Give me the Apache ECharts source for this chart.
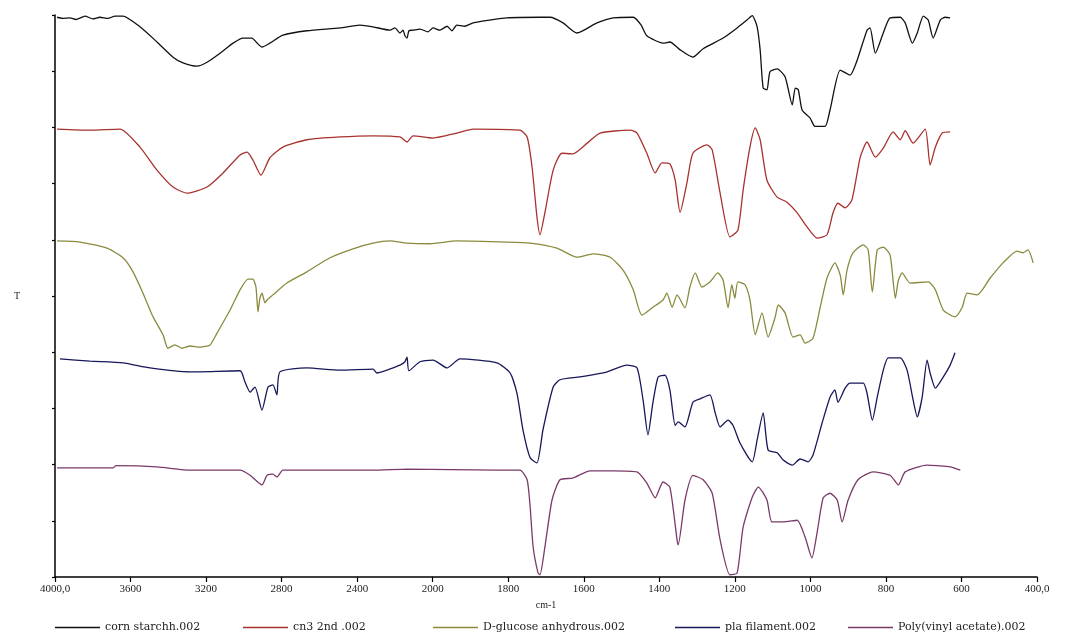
<!DOCTYPE html>
<html><head><meta charset="utf-8">
<script src="https://cdn.jsdelivr.net/npm/echarts@6/dist/echarts.min.js"></script>
<style>html,body{margin:0;padding:0;background:#fff}#c{width:1069px;height:641px}</style>
</head><body><div id="c"></div>
<script>
// Wavenumber ticks (scale change at 2000 cm-1, as on the instrument plot)
const tickValues = [4000,3600,3200,2800,2400,2000,1800,1600,1400,1200,1000,800,600,400];
const tickLabels = ['4000,0','3600','3200','2800','2400','2000','1800','1600','1400','1200','1000','800','600','400,0'];
const seriesNames = ['corn starchh.002','cn3 2nd .002','D-glucose anhydrous.002','pla filament.002','Poly(vinyl acetate).002'];

// [wavenumber cm-1, T (offset stacked units)]
const cornStarch = [[3989,9.96],[3960,9.94],[3921,9.95],[3890,9.92],[3841,9.98],[3800,9.93],[3762,9.96],[3720,9.94],[3682,9.98],[3640,9.98],[3550,9.79],[3460,9.52],[3375,9.25],[3322,9.15],[3248,9.09],[3195,9.16],[3126,9.32],[3057,9.50],[3005,9.59],[2957,9.59],[2930,9.50],[2904,9.43],[2862,9.50],[2793,9.64],[2666,9.72],[2491,9.77],[2385,9.82],[2316,9.79],[2226,9.73],[2200,9.77],[2173,9.68],[2157,9.73],[2147,9.63],[2136,9.59],[2126,9.72],[2104,9.73],[2067,9.75],[2025,9.70],[1999,9.77],[1981,9.73],[1962,9.80],[1949,9.72],[1936,9.82],[1915,9.80],[1893,9.86],[1803,9.95],[1716,9.96],[1689,9.96],[1655,9.86],[1618,9.68],[1565,9.86],[1522,9.95],[1469,9.96],[1448,9.82],[1433,9.63],[1390,9.50],[1372,9.52],[1345,9.38],[1311,9.25],[1284,9.40],[1231,9.59],[1194,9.77],[1168,9.91],[1154,9.99],[1141,9.79],[1133,9.38],[1125,8.70],[1115,8.67],[1107,8.99],[1088,9.04],[1067,8.90],[1048,8.40],[1040,8.70],[1032,8.67],[1022,8.31],[1001,8.17],[988,8.02],[961,8.02],[948,8.31],[921,9.02],[895,8.93],[876,9.20],[850,9.73],[842,9.77],[828,9.32],[807,9.68],[789,9.95],[762,9.96],[749,9.86],[730,9.50],[717,9.68],[701,9.98],[688,9.91],[675,9.59],[656,9.91],[643,9.96],[630,9.95]];

const cn3 = [[3989,7.97],[3815,7.95],[3656,7.97],[3550,7.65],[3460,7.24],[3375,6.94],[3301,6.83],[3195,6.94],[3110,7.19],[3020,7.51],[2983,7.56],[2952,7.42],[2909,7.15],[2862,7.46],[2793,7.65],[2666,7.78],[2491,7.83],[2316,7.85],[2173,7.83],[2136,7.74],[2104,7.85],[1999,7.81],[1936,7.90],[1893,7.97],[1769,7.95],[1750,7.83],[1737,7.30],[1724,6.41],[1716,6.09],[1703,6.48],[1681,7.24],[1658,7.54],[1629,7.53],[1591,7.72],[1557,7.90],[1477,7.95],[1459,7.90],[1433,7.54],[1411,7.19],[1393,7.37],[1372,7.35],[1358,7.06],[1345,6.49],[1327,7.01],[1311,7.54],[1274,7.69],[1260,7.60],[1239,6.83],[1213,6.05],[1192,6.17],[1178,6.89],[1160,7.65],[1146,7.99],[1133,7.78],[1115,7.06],[1088,6.76],[1062,6.67],[1035,6.48],[1009,6.23],[982,6.03],[956,6.09],[940,6.48],[927,6.65],[908,6.57],[890,6.71],[868,7.47],[850,7.74],[828,7.47],[807,7.63],[781,7.92],[762,7.78],[749,7.94],[728,7.72],[696,7.97],[683,7.33],[669,7.65],[651,7.90],[630,7.92]];

const glucose = [[3989,5.98],[3868,5.96],[3725,5.85],[3640,5.68],[3587,5.43],[3534,5.05],[3481,4.63],[3428,4.31],[3402,4.07],[3365,4.13],[3328,4.07],[3285,4.11],[3232,4.09],[3179,4.13],[3142,4.34],[3073,4.75],[3020,5.11],[2978,5.30],[2952,5.30],[2936,5.16],[2925,4.72],[2915,4.96],[2904,5.05],[2888,4.88],[2877,4.93],[2846,5.02],[2772,5.23],[2666,5.43],[2544,5.68],[2422,5.84],[2316,5.94],[2226,5.98],[2136,5.94],[2014,5.93],[1936,5.98],[1803,5.96],[1742,5.94],[1671,5.85],[1618,5.69],[1575,5.75],[1530,5.69],[1496,5.46],[1469,5.11],[1446,4.66],[1417,4.80],[1390,4.93],[1380,5.05],[1366,4.80],[1353,5.02],[1332,4.79],[1319,5.16],[1305,5.41],[1287,5.16],[1266,5.25],[1245,5.41],[1231,5.28],[1218,4.79],[1208,5.20],[1200,4.96],[1192,5.25],[1173,5.20],[1160,4.93],[1146,4.31],[1128,4.70],[1112,4.27],[1093,4.63],[1085,4.84],[1067,4.70],[1046,4.27],[1027,4.31],[1014,4.16],[993,4.25],[974,4.80],[956,5.32],[935,5.59],[921,5.37],[913,5.02],[903,5.46],[887,5.77],[860,5.91],[847,5.82],[836,5.07],[823,5.82],[807,5.87],[789,5.73],[775,4.96],[767,5.28],[757,5.41],[736,5.23],[688,5.25],[669,5.11],[648,4.75],[617,4.63],[598,4.80],[585,5.05],[558,5.02],[524,5.32],[490,5.59],[453,5.80],[437,5.77],[424,5.82],[410,5.59]];

const plaFilament = [[3974,3.88],[3815,3.84],[3640,3.81],[3497,3.72],[3285,3.65],[3020,3.67],[2994,3.47],[2967,3.29],[2941,3.38],[2904,2.97],[2872,3.38],[2846,3.42],[2825,3.24],[2809,3.65],[2666,3.72],[2491,3.68],[2316,3.70],[2295,3.63],[2173,3.77],[2147,3.83],[2136,3.91],[2126,3.67],[2067,3.83],[1999,3.86],[1962,3.72],[1928,3.88],[1830,3.81],[1795,3.63],[1777,3.27],[1761,2.62],[1742,2.12],[1724,2.03],[1708,2.62],[1681,3.38],[1663,3.51],[1610,3.56],[1538,3.65],[1486,3.77],[1459,3.72],[1443,3.15],[1430,2.53],[1417,3.10],[1403,3.56],[1385,3.59],[1372,3.33],[1358,2.70],[1350,2.76],[1332,2.67],[1311,3.11],[1292,3.17],[1266,3.24],[1252,2.92],[1239,2.67],[1218,2.79],[1205,2.70],[1186,2.38],[1154,2.05],[1141,2.44],[1125,2.92],[1112,2.26],[1088,2.21],[1072,2.08],[1048,1.99],[1027,2.10],[1006,2.05],[993,2.17],[969,2.74],[948,3.20],[935,3.33],[927,3.11],[908,3.36],[895,3.45],[860,3.45],[850,3.27],[836,2.79],[823,3.20],[807,3.68],[794,3.90],[762,3.90],[744,3.68],[728,3.15],[717,2.85],[704,3.20],[691,3.86],[683,3.63],[669,3.36],[648,3.56],[630,3.77],[617,3.99]];

const pvac = [[3989,1.94],[3693,1.94],[3677,1.98],[3460,1.96],[3285,1.90],[3020,1.90],[2967,1.81],[2904,1.64],[2877,1.81],[2846,1.83],[2825,1.78],[2793,1.90],[2666,1.90],[2316,1.90],[2136,1.92],[1830,1.90],[1769,1.90],[1750,1.73],[1742,1.25],[1734,0.53],[1721,0.07],[1716,0.04],[1703,0.53],[1684,1.37],[1663,1.73],[1629,1.76],[1583,1.89],[1522,1.89],[1459,1.87],[1433,1.67],[1411,1.41],[1390,1.69],[1372,1.60],[1353,0.66],[1350,0.57],[1332,1.37],[1311,1.81],[1284,1.73],[1260,1.49],[1239,0.66],[1213,0.04],[1194,0.07],[1178,0.89],[1154,1.42],[1138,1.60],[1115,1.37],[1102,0.98],[1072,0.98],[1035,1.01],[1014,0.71],[996,0.34],[982,0.80],[966,1.41],[948,1.49],[929,1.37],[916,0.98],[900,1.37],[874,1.73],[834,1.87],[789,1.81],[767,1.64],[749,1.87],[691,1.99],[664,1.98],[630,1.96],[603,1.90]];

const colors = ['#111111','#a8322e','#8a8a3e','#17175a','#7a3a68'];
const seriesData = [cornStarch, cn3, glucose, plaFilament, pvac];

// piecewise mapping of wavenumber onto the tick index scale
function toU(wn){
  for (let i = 0; i < tickValues.length - 1; i++) {
    const a = tickValues[i], b = tickValues[i+1];
    if (wn <= a && wn >= b) return i + (a - wn) / (a - b);
  }
  return wn > tickValues[0] ? 0 : tickValues.length - 1;
}

const serif = 'Liberation Serif';
const legendFont = 'DejaVu Serif';
const chart = echarts.init(document.getElementById('c'), null, {renderer:'canvas'});
const legendLefts = [55, 243, 433, 675, 848];

chart.setOption({
  animation: false,
  backgroundColor: '#ffffff',
  grid: {left: 55, right: 32, top: 15, bottom: 64, containLabel: false},
  xAxis: {
    type: 'value', min: 0, max: tickValues.length - 1, interval: 1,
    name: 'cm-1', nameLocation: 'middle', nameGap: 22,
    nameTextStyle: {fontFamily: serif, fontSize: 10, color: '#222'},
    axisLine: {lineStyle: {color: '#000', width: 1.5}},
    axisTick: {show: true, length: 5, lineStyle: {color: '#000', width: 1.2}},
    axisLabel: {fontFamily: serif, fontSize: 11, color: '#222', margin: 7,
      formatter: v => tickLabels[Math.round(v)] || ''},
    splitLine: {show: false}
  },
  yAxis: {
    type: 'value', min: 0, max: 10, interval: 1,
    name: 'T', nameLocation: 'middle', nameGap: 35, nameRotate: 0,
    nameTextStyle: {fontFamily: serif, fontSize: 10, color: '#222'},
    axisLine: {show: true, lineStyle: {color: '#000', width: 1.5}},
    axisTick: {show: true, length: 3, lineStyle: {color: '#000', width: 1.2}},
    axisLabel: {show: false},
    splitLine: {show: false}
  },
  legend: seriesNames.map((n, i) => ({
    data: [n], left: legendLefts[i], top: 622, icon: 'rect',
    itemWidth: 45, itemHeight: 1.5, itemGap: 0, padding: 0,
    textStyle: {fontFamily: legendFont, fontSize: 11, color: '#222'}
  })),
  series: seriesNames.map((n, i) => ({
    name: n, type: 'line', symbol: 'none', smooth: 0.2,
    lineStyle: {color: colors[i], width: 1.3},
    itemStyle: {color: colors[i]},
    data: seriesData[i].map(([wn, t]) => [toU(wn), t])
  }))
});
</script></body></html>
